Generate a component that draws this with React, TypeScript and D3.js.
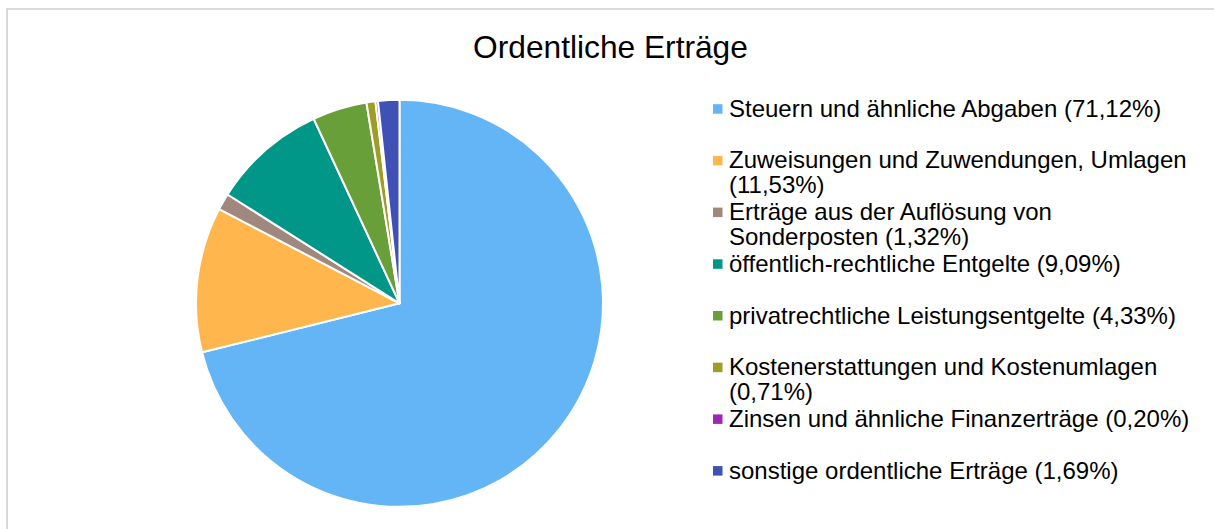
import React, { useRef, useEffect } from 'react';
import * as d3 from 'd3';

const title = 'Ordentliche Erträge';

const categories = [
  'Steuern und ähnliche Abgaben',
  'Zuweisungen und Zuwendungen, Umlagen',
  'Erträge aus der Auflösung von Sonderposten',
  'öffentlich-rechtliche Entgelte',
  'privatrechtliche Leistungsentgelte',
  'Kostenerstattungen und Kostenumlagen',
  'Zinsen und ähnliche Finanzerträge',
  'sonstige ordentliche Erträge',
];

const shares = [71.12, 11.53, 1.32, 9.09, 4.33, 0.71, 0.2, 1.69];

// legend text as it wraps in the original
const legendLines = [
  ['Steuern und ähnliche Abgaben (71,12%)'],
  ['Zuweisungen und Zuwendungen, Umlagen', '(11,53%)'],
  ['Erträge aus der Auflösung von', 'Sonderposten (1,32%)'],
  ['öffentlich-rechtliche Entgelte (9,09%)'],
  ['privatrechtliche Leistungsentgelte (4,33%)'],
  ['Kostenerstattungen und Kostenumlagen', '(0,71%)'],
  ['Zinsen und ähnliche Finanzerträge (0,20%)'],
  ['sonstige ordentliche Erträge (1,69%)'],
];

const colors = ['#64b5f6', '#ffb74d', '#a1887f', '#009688', '#689f38', '#9e9d24', '#9c27b0', '#3f51b5'];

const W = 1214;
const H = 529;

const App: React.FC = () => {
  const svgRef = useRef<SVGSVGElement>(null);

  useEffect(() => {
    if (!svgRef.current) return;
    const svg = d3.select(svgRef.current);
    svg.selectAll('*').remove();

    const font = '"Liberation Sans", Arial, sans-serif';

    // chart frame
    svg.append('rect')
      .attr('x', 7).attr('y', 9)
      .attr('width', W + 20).attr('height', H + 20)
      .attr('fill', '#fff')
      .attr('stroke', '#d9d9d9')
      .attr('stroke-width', 2);

    svg.append('text')
      .attr('x', 610.5)
      .attr('y', 57.7)
      .attr('text-anchor', 'middle')
      .attr('font-family', font)
      .attr('font-size', 31.7)
      .attr('fill', '#000')
      .text(title);

    // Pie
    const cx = 399.5, cy = 303.3, r = 203.5;
    const pie = d3.pie<number>().sort(null).value(d => d);
    const arc = d3.arc<d3.PieArcDatum<number>>().innerRadius(0).outerRadius(r);
    const color = d3.scaleOrdinal<string, string>().domain(categories).range(colors);

    const pg = svg.append('g').attr('transform', `translate(${cx},${cy})`);
    pg.selectAll('path')
      .data(pie(shares))
      .enter().append('path')
      .attr('d', arc)
      .attr('fill', (d, i) => color(categories[i]))
      .attr('stroke', '#fff')
      .attr('stroke-width', 2)
      .attr('stroke-linejoin', 'round');

    // Legend
    const legendY = d3.scaleLinear().domain([0, categories.length - 1]).range([116.7, 478.6]);
    const lineH = 24.8;
    const lg = svg.append('g');
    categories.forEach((c, i) => {
      const by = legendY(i);
      lg.append('rect')
        .attr('x', 713).attr('y', by - 12.5)
        .attr('width', 9.5).attr('height', 9.5)
        .attr('fill', color(c));
      const t = lg.append('text')
        .attr('x', 729)
        .attr('y', by)
        .attr('font-family', font)
        .attr('font-size', 24)
        .attr('fill', '#000');
      legendLines[i].forEach((ln, j) => {
        t.append('tspan').attr('x', 729).attr('y', by + j * lineH).text(ln);
      });
    });
  }, []);

  return (
    <svg
      ref={svgRef}
      width={W}
      height={H}
      style={{ position: 'absolute', left: 0, top: 0, background: '#fff' }}
    />
  );
};

export default App;
